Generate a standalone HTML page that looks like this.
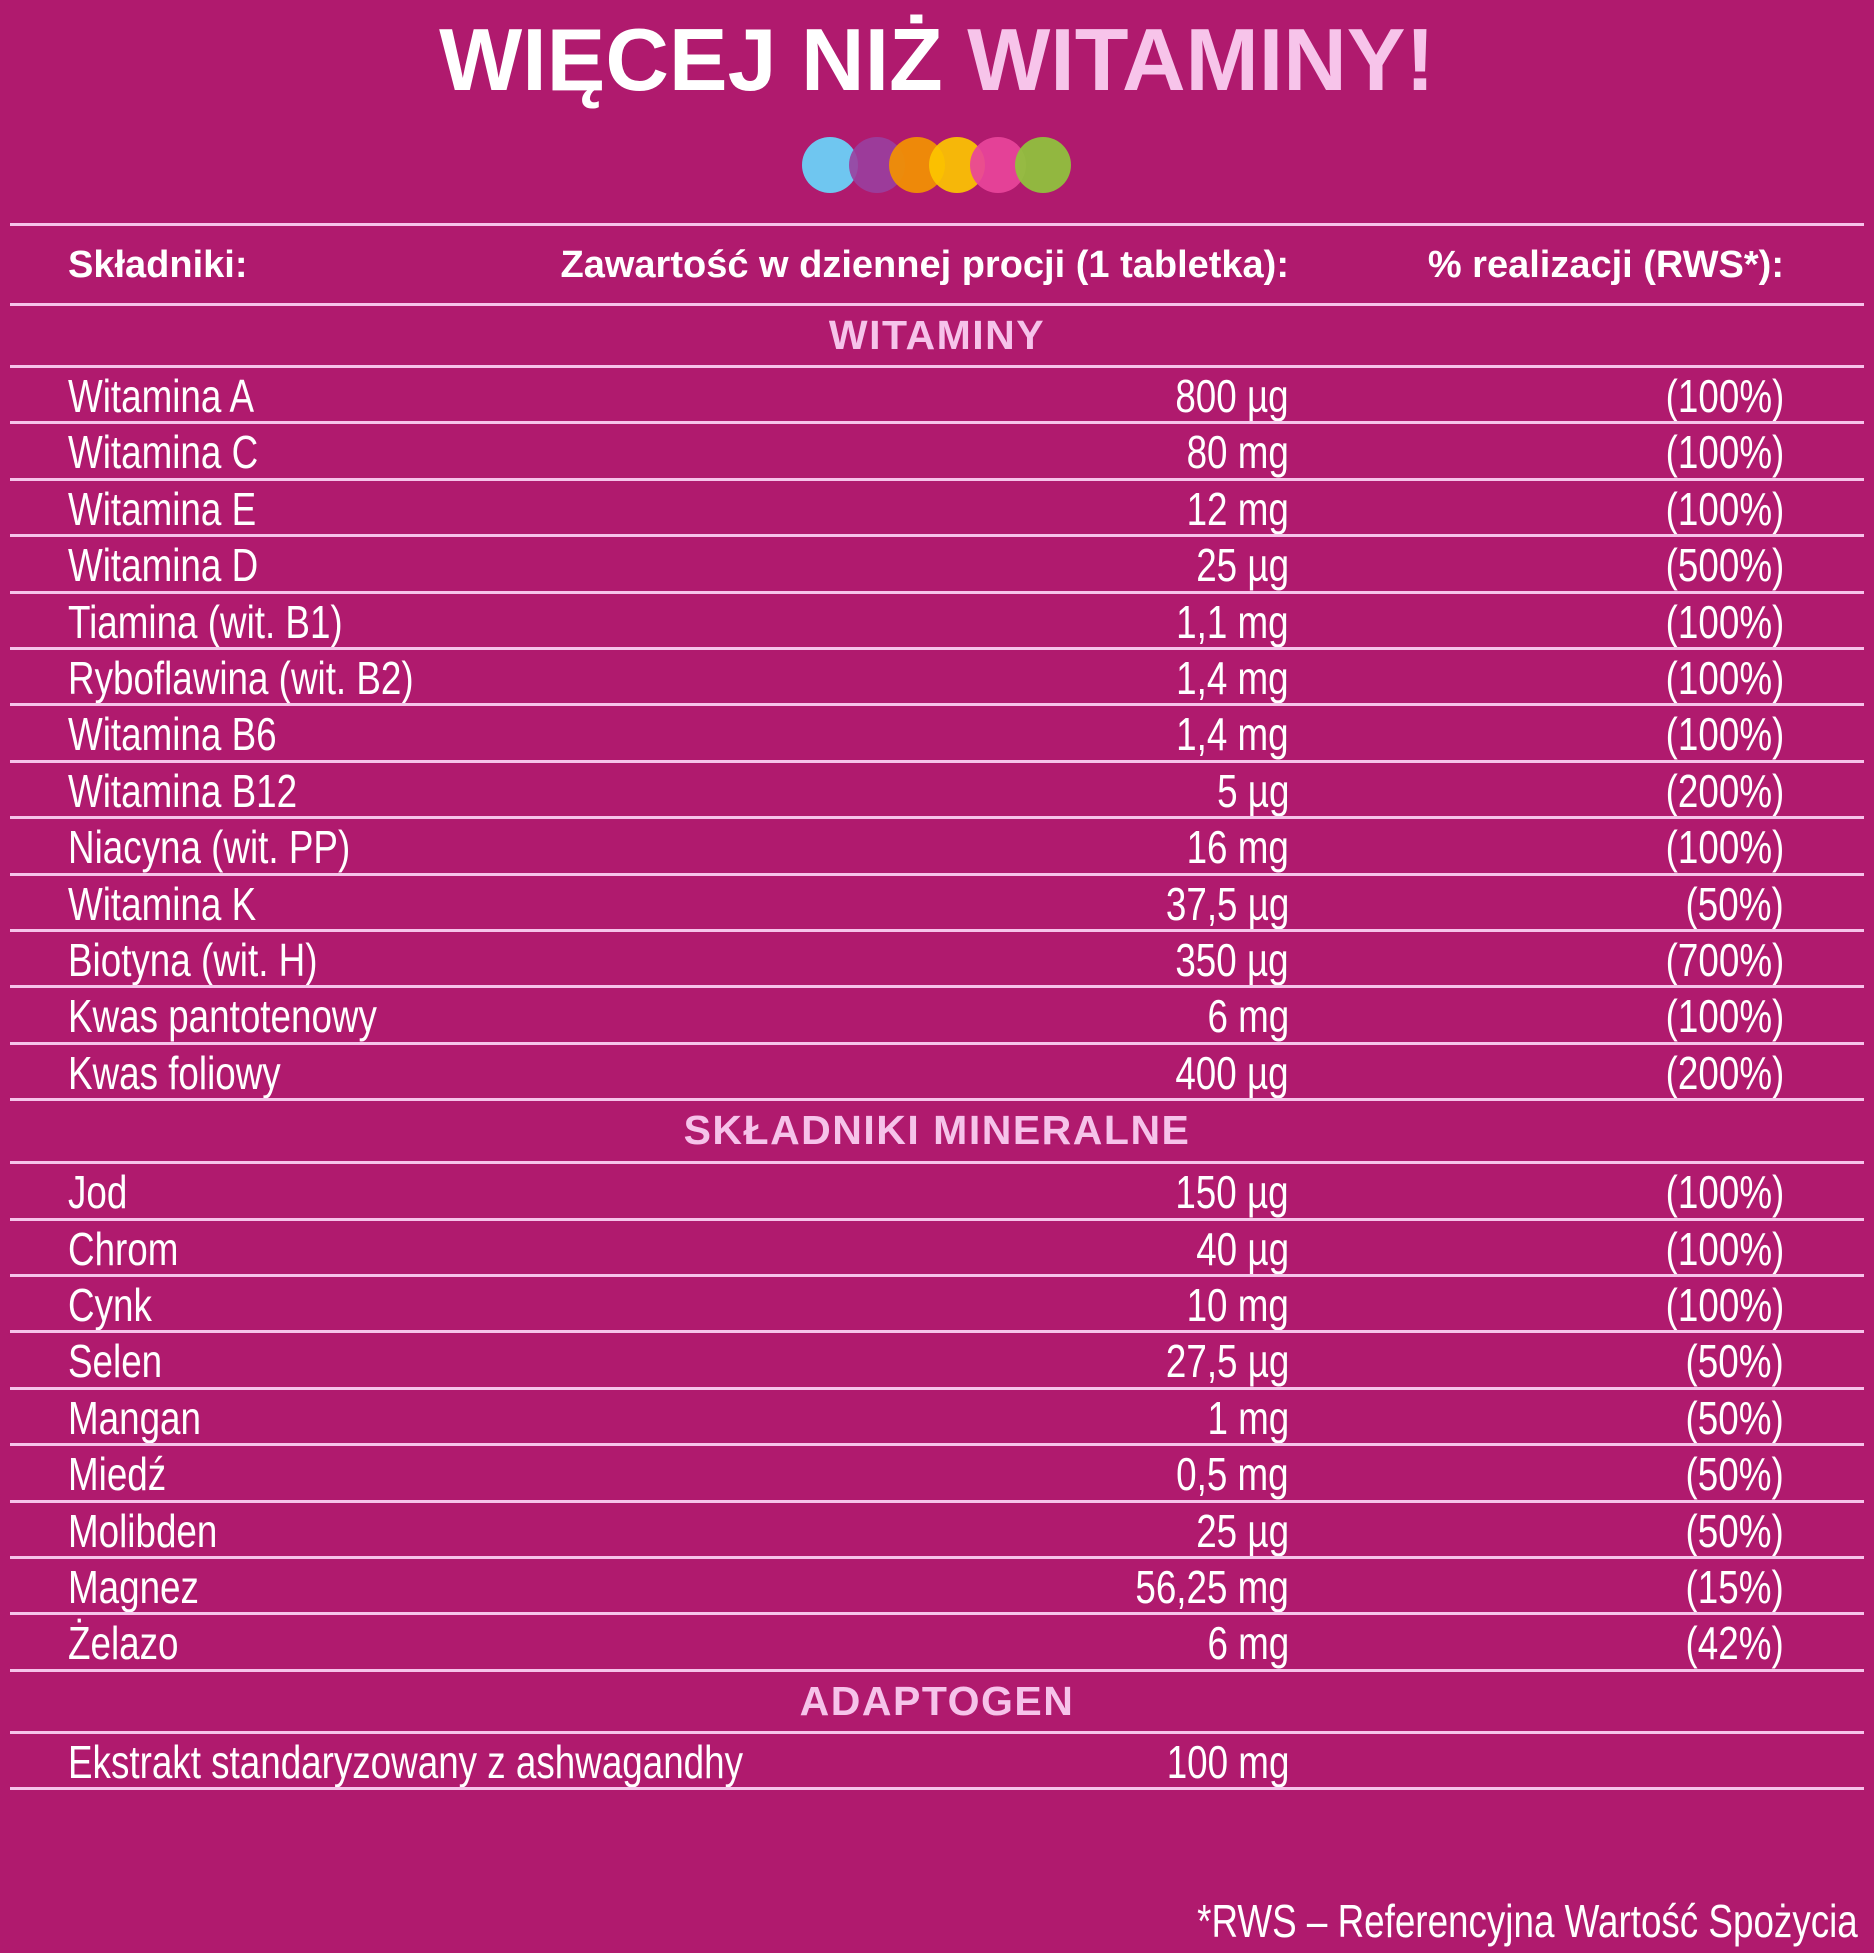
<!DOCTYPE html>
<html><head><meta charset="utf-8">
<style>
html,body{margin:0;padding:0}
body{width:1874px;height:1953px;background:#b01a6e;position:relative;overflow:hidden;font-family:"Liberation Sans",sans-serif;color:#fff}
.abs{position:absolute}
.line{position:absolute;left:10px;width:1854px;height:3px;background:#f6c3ea}
.cell{position:absolute;font-size:46px;line-height:56px;white-space:nowrap}
.c{display:inline-block;transform:scaleX(0.8)}
.l .c{transform-origin:left center}
.r .c{transform-origin:right center}
.sec{position:absolute;left:0;width:1874px;text-align:center;font-weight:bold;font-size:41px;color:#f6c3ea;letter-spacing:1.5px}
.hd{position:absolute;font-weight:bold;font-size:38px;top:242px;line-height:46px}
</style></head>
<body>
<div class="abs" style="left:0;width:1874px;text-align:center;top:8px;font-weight:bold;font-size:88px;line-height:104px;">WIĘCEJ NIŻ <span style="color:#f7c4ea">WITAMINY!</span></div>
<svg class="abs" style="left:790px;top:130px" width="290" height="70">
<circle cx="40" cy="35" r="28" fill="#6fc6f0"/>
<circle cx="87" cy="35" r="28" fill="#9a3f9e" opacity="0.9"/>
<circle cx="127" cy="35" r="28" fill="#f39200" opacity="0.92"/>
<circle cx="167" cy="35" r="28" fill="#fcc400" opacity="0.92"/>
<circle cx="208" cy="35" r="28" fill="#e8449a" opacity="0.92"/>
<circle cx="253" cy="35" r="28" fill="#8fc43c" opacity="0.92"/>
</svg>
<div class="hd" style="left:68px">Składniki:</div>
<div class="hd" style="right:585px">Zawartość w dziennej procji (1 tabletka):</div>
<div class="hd" style="right:90px">% realizacji (RWS*):</div>
<div id="tbl"></div>
<div class="cell r" style="right:16px;top:1893px"><span class="c">*RWS – Referencyjna Wartość Spożycia</span></div>
<script>
const vitNames=["Witamina A","Witamina C","Witamina E","Witamina D","Tiamina (wit. B1)","Ryboflawina (wit. B2)","Witamina B6","Witamina B12","Niacyna (wit. PP)","Witamina K","Biotyna (wit. H)","Kwas pantotenowy","Kwas foliowy"];
const vitVals=["800 µg","80 mg","12 mg","25 µg","1,1 mg","1,4 mg","1,4 mg","5 µg","16 mg","37,5 µg","350 µg","6 mg","400 µg"];
const vitPct=["(100%)","(100%)","(100%)","(500%)","(100%)","(100%)","(100%)","(200%)","(100%)","(50%)","(700%)","(100%)","(200%)"];
const minNames=["Jod","Chrom","Cynk","Selen","Mangan","Miedź","Molibden","Magnez","Żelazo"];
const minVals=["150 µg","40 µg","10 mg","27,5 µg","1 mg","0,5 mg","25 µg","56,25 mg","6 mg"];
const minPct=["(100%)","(100%)","(100%)","(50%)","(50%)","(50%)","(50%)","(15%)","(42%)"];
const adNames=["Ekstrakt standaryzowany z ashwagandhy"];
const adVals=["100 mg"];
const adPct=[""];
const tbl=document.getElementById('tbl');
const ROW=56.4;
function line(y){const d=document.createElement('div');d.className='line';d.style.top=(y-1)+'px';


tbl.appendChild(d);}
function cell(txt,y,side,pos,name){const d=document.createElement('div');d.className='cell '+side;d.style.top=(y+2)+'px';d.style[side==='l'?'left':'right']=pos+'px';
d.innerHTML='<span class="c"></span>';d.firstChild.textContent=txt;


tbl.appendChild(d);}
function sec(txt,y,h){const d=document.createElement('div');d.className='sec';d.style.top=y+'px';d.style.lineHeight=h+'px';d.textContent=txt;


tbl.appendChild(d);}
line(224);line(304);
let y=304;
sec("WITAMINY",y,62);y=366;line(y);
function rows(n,v,p){for(let i=0;i<n.length;i++){cell(n[i],y,'l',68,'ingredient-name');cell(v[i],y,'r',585,'ingredient-amount');if(p[i])cell(p[i],y,'r',90,'ingredient-rws');y+=ROW;line(Math.round(y));}}
rows(vitNames,vitVals,vitPct);
sec("SKŁADNIKI  MINERALNE",Math.round(y),63);y+=63;line(Math.round(y));
rows(minNames,minVals,minPct);
sec("ADAPTOGEN",Math.round(y),62);y+=62;line(Math.round(y));
rows(adNames,adVals,adPct);
</script>
</body></html>
